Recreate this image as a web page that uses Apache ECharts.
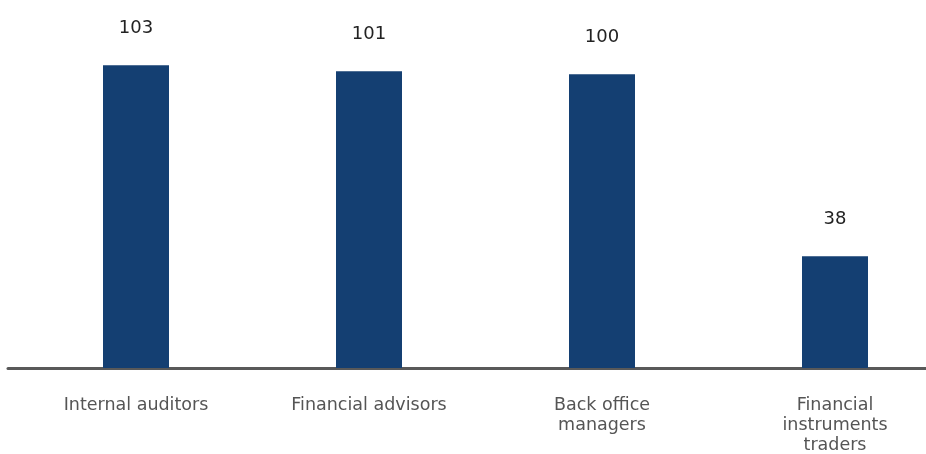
<!DOCTYPE html>
<html>
<head>
<meta charset="utf-8">
<script src="https://cdn.jsdelivr.net/npm/echarts@6/dist/echarts.min.js"></script>
<style>
  html, body { margin: 0; padding: 0; background: #ffffff; }
  #chart { width: 926px; height: 454px; }
</style>
</head>
<body>
<div id="chart"></div>
<script>
// Roles and the number of people in each
const categories = ['Internal auditors', 'Financial advisors', 'Back office\nmanagers', 'Financial\ninstruments\ntraders'];
const values = [103, 101, 100, 38];

const FONT = '"DejaVu Sans", "Noto Sans", sans-serif';
const chart = echarts.init(document.getElementById('chart'), null, { renderer: 'canvas' });

chart.setOption({
  animation: false,
  backgroundColor: '#ffffff',
  grid: [
    // bars sit on a wide band whose right part runs past the canvas edge
    { left: 19.5, width: 932, top: 15.4, bottom: 86, containLabel: false, outerBoundsMode: 'none' },
    // a full-width band that carries the baseline across the whole canvas
    { left: 8, right: 0, top: 15.4, bottom: 86, containLabel: false, outerBoundsMode: 'none' }
  ],
  xAxis: [
    {
      type: 'category',
      data: categories,
      gridIndex: 0,
      axisLine: { show: true, lineStyle: { color: '#595959', width: 3 } },
      axisTick: { show: false },
      axisLabel: {
        color: '#555555',
        fontFamily: FONT,
        fontSize: 17.5,
        lineHeight: 20,
        margin: 27,
        interval: 0,
        hideOverlap: false
      }
    },
    {
      type: 'category',
      data: [''],
      gridIndex: 1,
      axisLine: { show: true, lineStyle: { color: '#595959', width: 3 } },
      axisTick: { show: false },
      axisLabel: { show: false }
    }
  ],
  yAxis: [
    { type: 'value', min: 0, max: 120, gridIndex: 0, show: false, splitLine: { show: false } },
    { type: 'value', min: 0, max: 120, gridIndex: 1, show: false, splitLine: { show: false } }
  ],
  series: [
    {
      type: 'bar',
      xAxisIndex: 0,
      yAxisIndex: 0,
      data: values,
      barWidth: 66,
      z: 3,
      itemStyle: { color: '#143F72' },
      label: {
        show: true,
        position: 'top',
        distance: 28,
        color: '#222222',
        fontFamily: FONT,
        fontSize: 18,
        fontWeight: 'normal'
      }
    }
  ]
});
</script>
</body>
</html>
